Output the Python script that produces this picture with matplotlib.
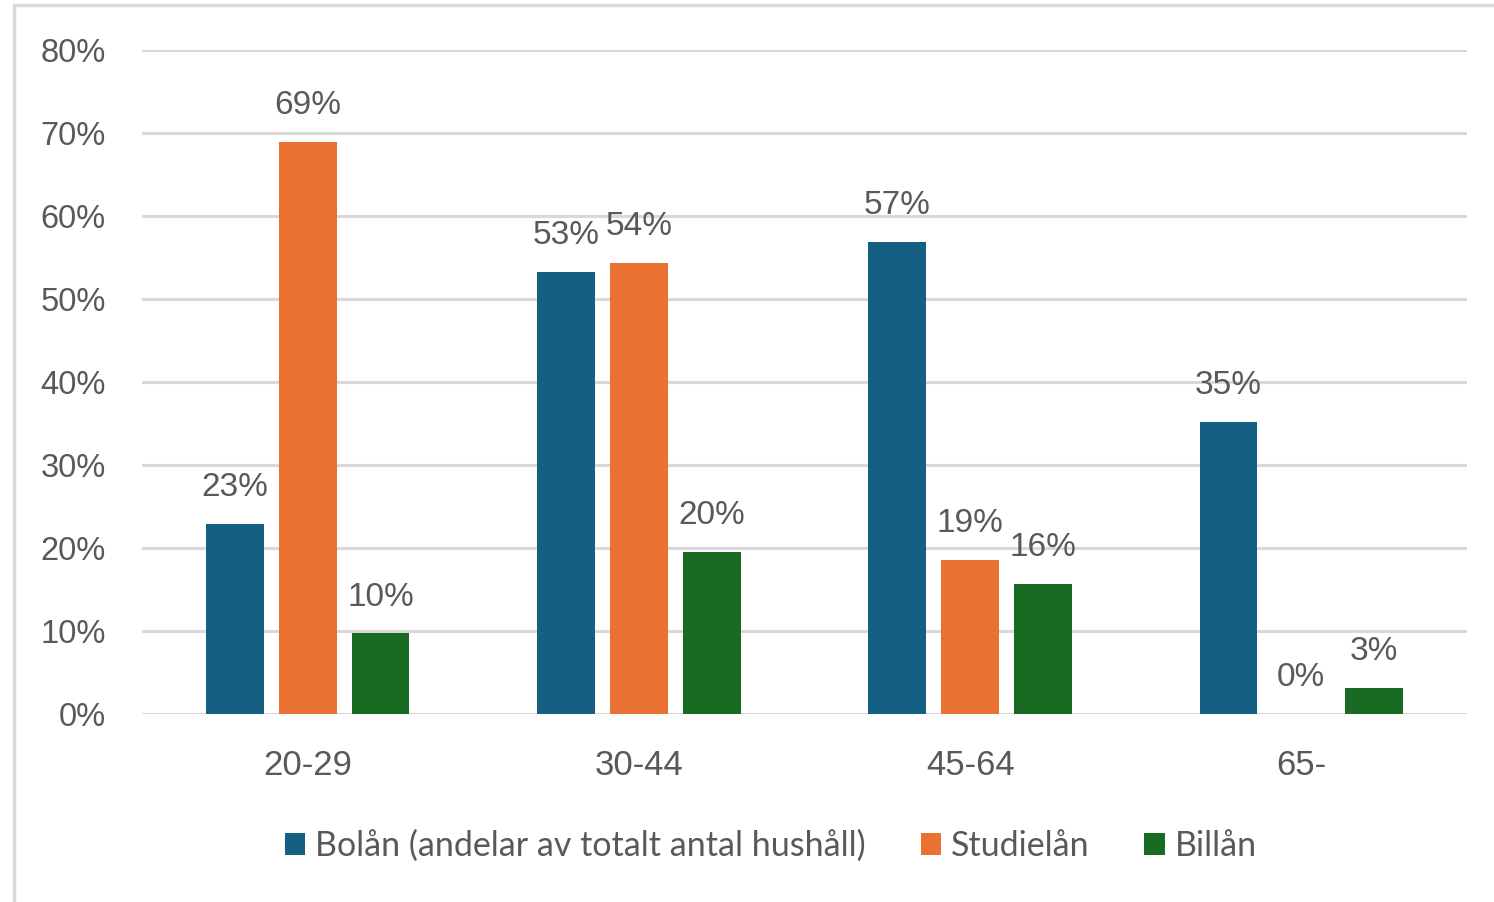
import numpy as np
import matplotlib
matplotlib.use('Agg')
import matplotlib.pyplot as plt
from matplotlib.patches import Rectangle

# data (labels shown rounded)
groups = ['20-29', '30-44', '45-64', '65-']
series = ['Bolån (andelar av totalt antal hushåll)', 'Studielån', 'Billån']
bolan = [22.9, 53.3, 56.9, 35.2]
studielan = [68.9, 54.3, 18.6, 0.0]
billan = [9.7, 19.5, 15.7, 3.1]
colors = ['#156082', '#E97132', '#196B24']
yticks = [0, 10, 20, 30, 40, 50, 60, 70, 80]

txtcol = '#595959'
lab_font = ['Liberation Sans', 'DejaVu Sans']
leg_font = ['Lato', 'DejaVu Sans']

fig = plt.figure(figsize=(14.94, 9.02), dpi=100)
ax = fig.add_axes([142/1494, 1-714/902, (1467-142)/1494, (714-50)/902])

# outer chart border (only left/top visible in the reference)
fig.patches.append(Rectangle((14/1494, -0.1), 1.2, 1-5/902+0.1, transform=fig.transFigure,
                             fill=False, edgecolor='#d9d9d9', linewidth=2.5))

x = np.arange(len(groups))
w = 0.175
off = 0.22
for i, (vals, name) in enumerate(zip([bolan, studielan, billan], series)):
    pos = x + (i-1)*off
    ax.bar(pos, vals, width=w, color=colors[i], label=name, zorder=3)
    for p, v in zip(pos, vals):
        ax.annotate('%d%%' % int(v+0.5), (p, v), xytext=(0, 15), textcoords='offset points',
                    ha='center', va='bottom', fontsize=24, color=txtcol, family=lab_font)

ax.set_xlim(-0.5, 3.5)
ax.set_ylim(0, 80)
ax.set_yticks(yticks)
ax.set_yticklabels([str(t)+'%' for t in yticks], family=lab_font, fontsize=23.5, color=txtcol)
ax.set_xticks(x)
ax.set_xticklabels(groups, family=lab_font, fontsize=25, color=txtcol)
ax.tick_params(axis='both', length=0)
ax.tick_params(axis='y', pad=26)
ax.tick_params(axis='x', pad=25)
ax.grid(axis='y', color='#d9d9d9', linewidth=2.2, zorder=0)
for s in ax.spines.values():
    s.set_visible(False)

leg = fig.legend(loc='center', bbox_to_anchor=(0.516, 1-846/902), ncol=3, frameon=False,
                 prop={'family': leg_font, 'size': 24.5}, handlelength=0.6, handleheight=0.6,
                 handletextpad=0.3, columnspacing=1.6)
for t in leg.get_texts():
    t.set_color(txtcol)

fig.savefig('out.png', dpi=100)
